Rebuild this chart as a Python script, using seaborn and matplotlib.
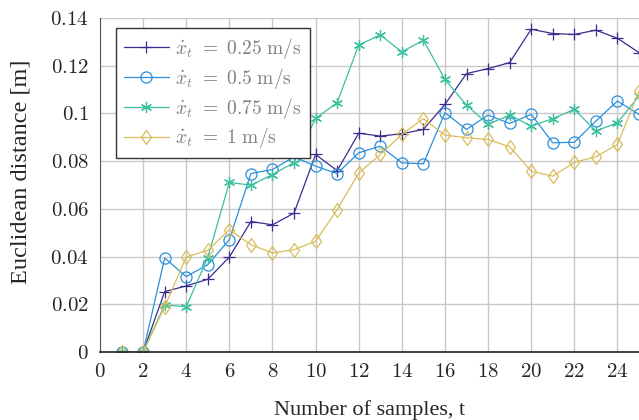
import numpy as np
import pandas as pd
import matplotlib
matplotlib.use("Agg")
import matplotlib.pyplot as plt
from matplotlib.ticker import MultipleLocator, FuncFormatter
from matplotlib.path import Path
import seaborn as sns

# ---- data ----
t = list(range(1, 26))
v025 = [0, 0, 0.0253, 0.0277, 0.0305, 0.0398, 0.0547, 0.0533, 0.0582, 0.0828,
        0.0760, 0.0917, 0.0905, 0.0915, 0.0933, 0.1038, 0.1167, 0.1188, 0.1213,
        0.1353, 0.1335, 0.1331, 0.1349, 0.1315, 0.1255]
v05 = [0, 0, 0.0394, 0.0316, 0.0366, 0.0471, 0.0748, 0.0765, 0.0818, 0.0779,
       0.0748, 0.0835, 0.0863, 0.0793, 0.0789, 0.1003, 0.0933, 0.0993, 0.0958,
       0.0996, 0.0877, 0.0879, 0.0968, 0.1052, 0.0996]
v075 = [0, 0, 0.0197, 0.0190, 0.0396, 0.0711, 0.0699, 0.0744, 0.0794, 0.0979,
        0.1045, 0.1287, 0.1329, 0.1258, 0.1307, 0.1143, 0.1035, 0.0954, 0.0993,
        0.0947, 0.0978, 0.1017, 0.0926, 0.0961, 0.1073]
v1 = [0, 0, 0.0190, 0.0398, 0.0426, 0.0513, 0.0450, 0.0415, 0.0429, 0.0464,
      0.0597, 0.0750, 0.0828, 0.0912, 0.0978, 0.0909, 0.0898, 0.0891, 0.0860,
      0.0758, 0.0737, 0.0795, 0.0818, 0.0870, 0.1094]

labels = [r"$\dot{x}_t\ =\ 0.25\ \mathrm{m/s}$", r"$\dot{x}_t\ =\ 0.5\ \mathrm{m/s}$",
          r"$\dot{x}_t\ =\ 0.75\ \mathrm{m/s}$", r"$\dot{x}_t\ =\ 1\ \mathrm{m/s}$"]
series = [v025, v05, v075, v1]
colors = ["#3b2c8e", "#2a8fdc", "#3cbf9d", "#d9bd58"]

diamond = Path([(0, 1), (0.72, 0), (0, -1), (-0.72, 0), (0, 1)],
               [Path.MOVETO, Path.LINETO, Path.LINETO, Path.LINETO, Path.CLOSEPOLY])
markers = ["+", "o", (6, 2, 0), diamond]
msizes = [8, 8, 8, 10]

sns.set_style("white")
plt.rcParams["font.family"] = ["Liberation Serif", "DejaVu Serif"]
plt.rcParams["mathtext.fontset"] = "cm"

fig = plt.figure(figsize=(6.39, 4.2), dpi=100)
ax = fig.add_axes([100 / 639, 68 / 420, 539 / 639, 334 / 420])

for vals, lab, col, mk, ms in zip(series, labels, colors, markers, msizes):
    df = pd.DataFrame({"t": t, "v": vals})
    sns.lineplot(data=df, x="t", y="v", ax=ax, color=col, marker=mk,
                 markersize=ms, markerfacecolor="none", markeredgecolor=col,
                 markeredgewidth=0.9, linewidth=0.9, label=lab)

ax.set_xlim(0, 25)
ax.set_ylim(0, 0.14)
ax.xaxis.set_major_locator(MultipleLocator(2))
ax.yaxis.set_major_locator(MultipleLocator(0.02))
ax.xaxis.set_minor_locator(MultipleLocator(2 / 3))
ax.yaxis.set_minor_locator(MultipleLocator(0.02 / 3))
fmt = FuncFormatter(lambda v, p: "$%s$" % ("%g" % round(v, 4)))
ax.xaxis.set_major_formatter(fmt)
ax.yaxis.set_major_formatter(fmt)
ax.tick_params(axis="both", which="major", direction="in", length=7, width=0.8,
               color="#808080", labelsize=15)
ax.tick_params(axis="x", which="major", pad=8)
ax.tick_params(axis="y", which="major", pad=8)
ax.tick_params(axis="both", which="minor", direction="in", length=4, width=0.8,
               color="#808080")
ax.grid(True, which="major", color="#c8c8c8", linewidth=1.0)
ax.set_axisbelow(True)

for s in ["top", "right"]:
    ax.spines[s].set_visible(False)
ax.spines["left"].set_color("#555555")
ax.spines["left"].set_linewidth(0.8)
ax.spines["bottom"].set_color("#222222")
ax.spines["bottom"].set_linewidth(1.2)

ax.set_xlabel("Number of samples, t", fontsize=16, labelpad=13)
ax.set_ylabel("Euclidean distance [m]", fontsize=17.5)
ax.yaxis.set_label_coords(-0.128, 0.539)

leg = ax.legend(loc="upper left", bbox_to_anchor=(0.03, 0.97), fontsize=14,
                labelcolor="#808080", frameon=True, fancybox=False,
                edgecolor="#333333", framealpha=1, handlelength=2.3,
                borderpad=0.4, labelspacing=0.25, handletextpad=0.35,
                borderaxespad=0)
leg.get_frame().set_linewidth(1.0)

fig.savefig("out.png", dpi=100)
